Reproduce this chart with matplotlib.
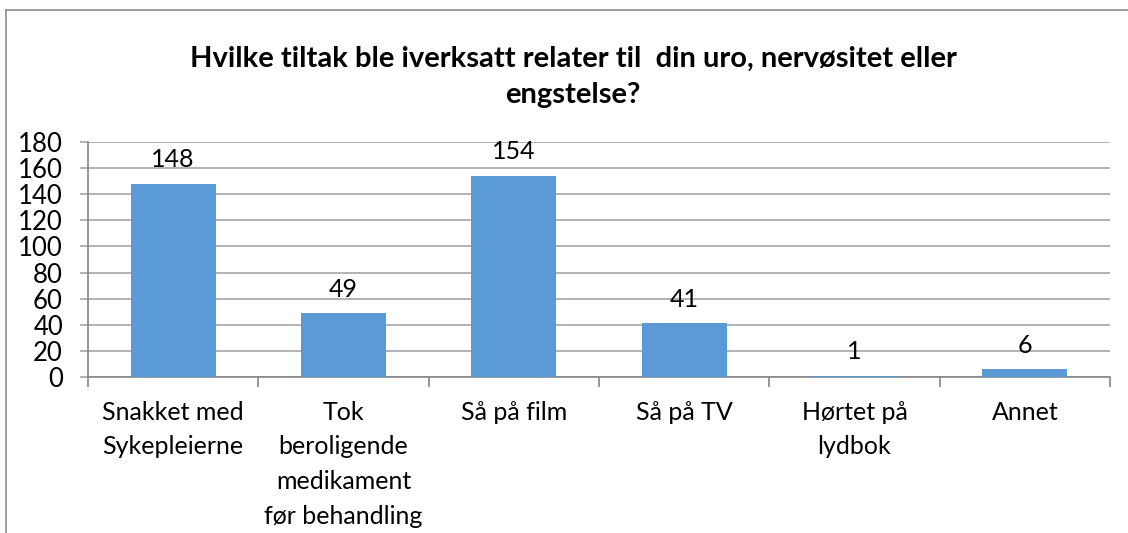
import numpy as np
import matplotlib.pyplot as plt
from matplotlib.lines import Line2D

# data
kategorier = ["Snakket med\nSykepleierne", "Tok\nberoligende\nmedikament\nfør behandling",
              "Så på film", "Så på TV", "Hørtet på\nlydbok", "Annet"]
antall = [148, 49, 154, 41, 1, 6]
y_ticks = [0, 20, 40, 60, 80, 100, 120, 140, 160, 180]
tittel = "Hvilke tiltak ble iverksatt relater til  din uro, nervøsitet eller\nengstelse?"

plt.rcParams['font.family'] = ['Lato', 'DejaVu Sans']

blaa = "#5B9BD5"
graa = "#A6A6A6"

fig = plt.figure(figsize=(11.28, 5.33), dpi=100)
ax = fig.add_axes([88/1128, 1-377/533, (1110-88)/1128, (377-142)/533])

x = np.arange(len(kategorier))
ax.bar(x, antall, width=0.5, color=blaa, zorder=3)
for xi, v in zip(x, antall):
    ax.annotate(str(v), (xi, v), xytext=(0, 9), textcoords="offset points",
                ha="center", va="bottom", fontsize=18, color="black")

ax.set_xlim(-0.5, len(kategorier) - 0.5)
ax.set_ylim(0, 180)
ax.set_yticks(y_ticks)
ax.yaxis.grid(True, color=graa, linewidth=1.2, zorder=0)
ax.tick_params(axis="y", length=6, color=graa, width=1.2, labelsize=18.5, pad=12)

ax.set_xticks(x)
ax.set_xticklabels(kategorier, fontsize=18, linespacing=1.62, va="top")
ax.tick_params(axis="x", length=0, pad=17)
ax.set_xticks(np.arange(-0.5, len(kategorier)), minor=True)
ax.tick_params(axis="x", which="minor", length=7, color="#868686", width=1.2)

for s in ["top", "right"]:
    ax.spines[s].set_visible(False)
ax.spines["left"].set_color("#868686")
ax.spines["bottom"].set_color("#868686")
ax.spines["left"].set_linewidth(1.2)
ax.spines["bottom"].set_linewidth(1.2)

fig.text(573/1128, 1-77/533, tittel, ha="center", va="center", fontsize=21,
         fontweight="bold", linespacing=1.45)

# ramme rundt diagrammet
fig.add_artist(Line2D([6/1128, 6/1128], [0, 1-10/533], color="#8C8C8C", linewidth=1.2))
fig.add_artist(Line2D([6/1128, 1], [1-10/533, 1-10/533], color="#8C8C8C", linewidth=1.2))

fig.savefig("out.png", dpi=100)
